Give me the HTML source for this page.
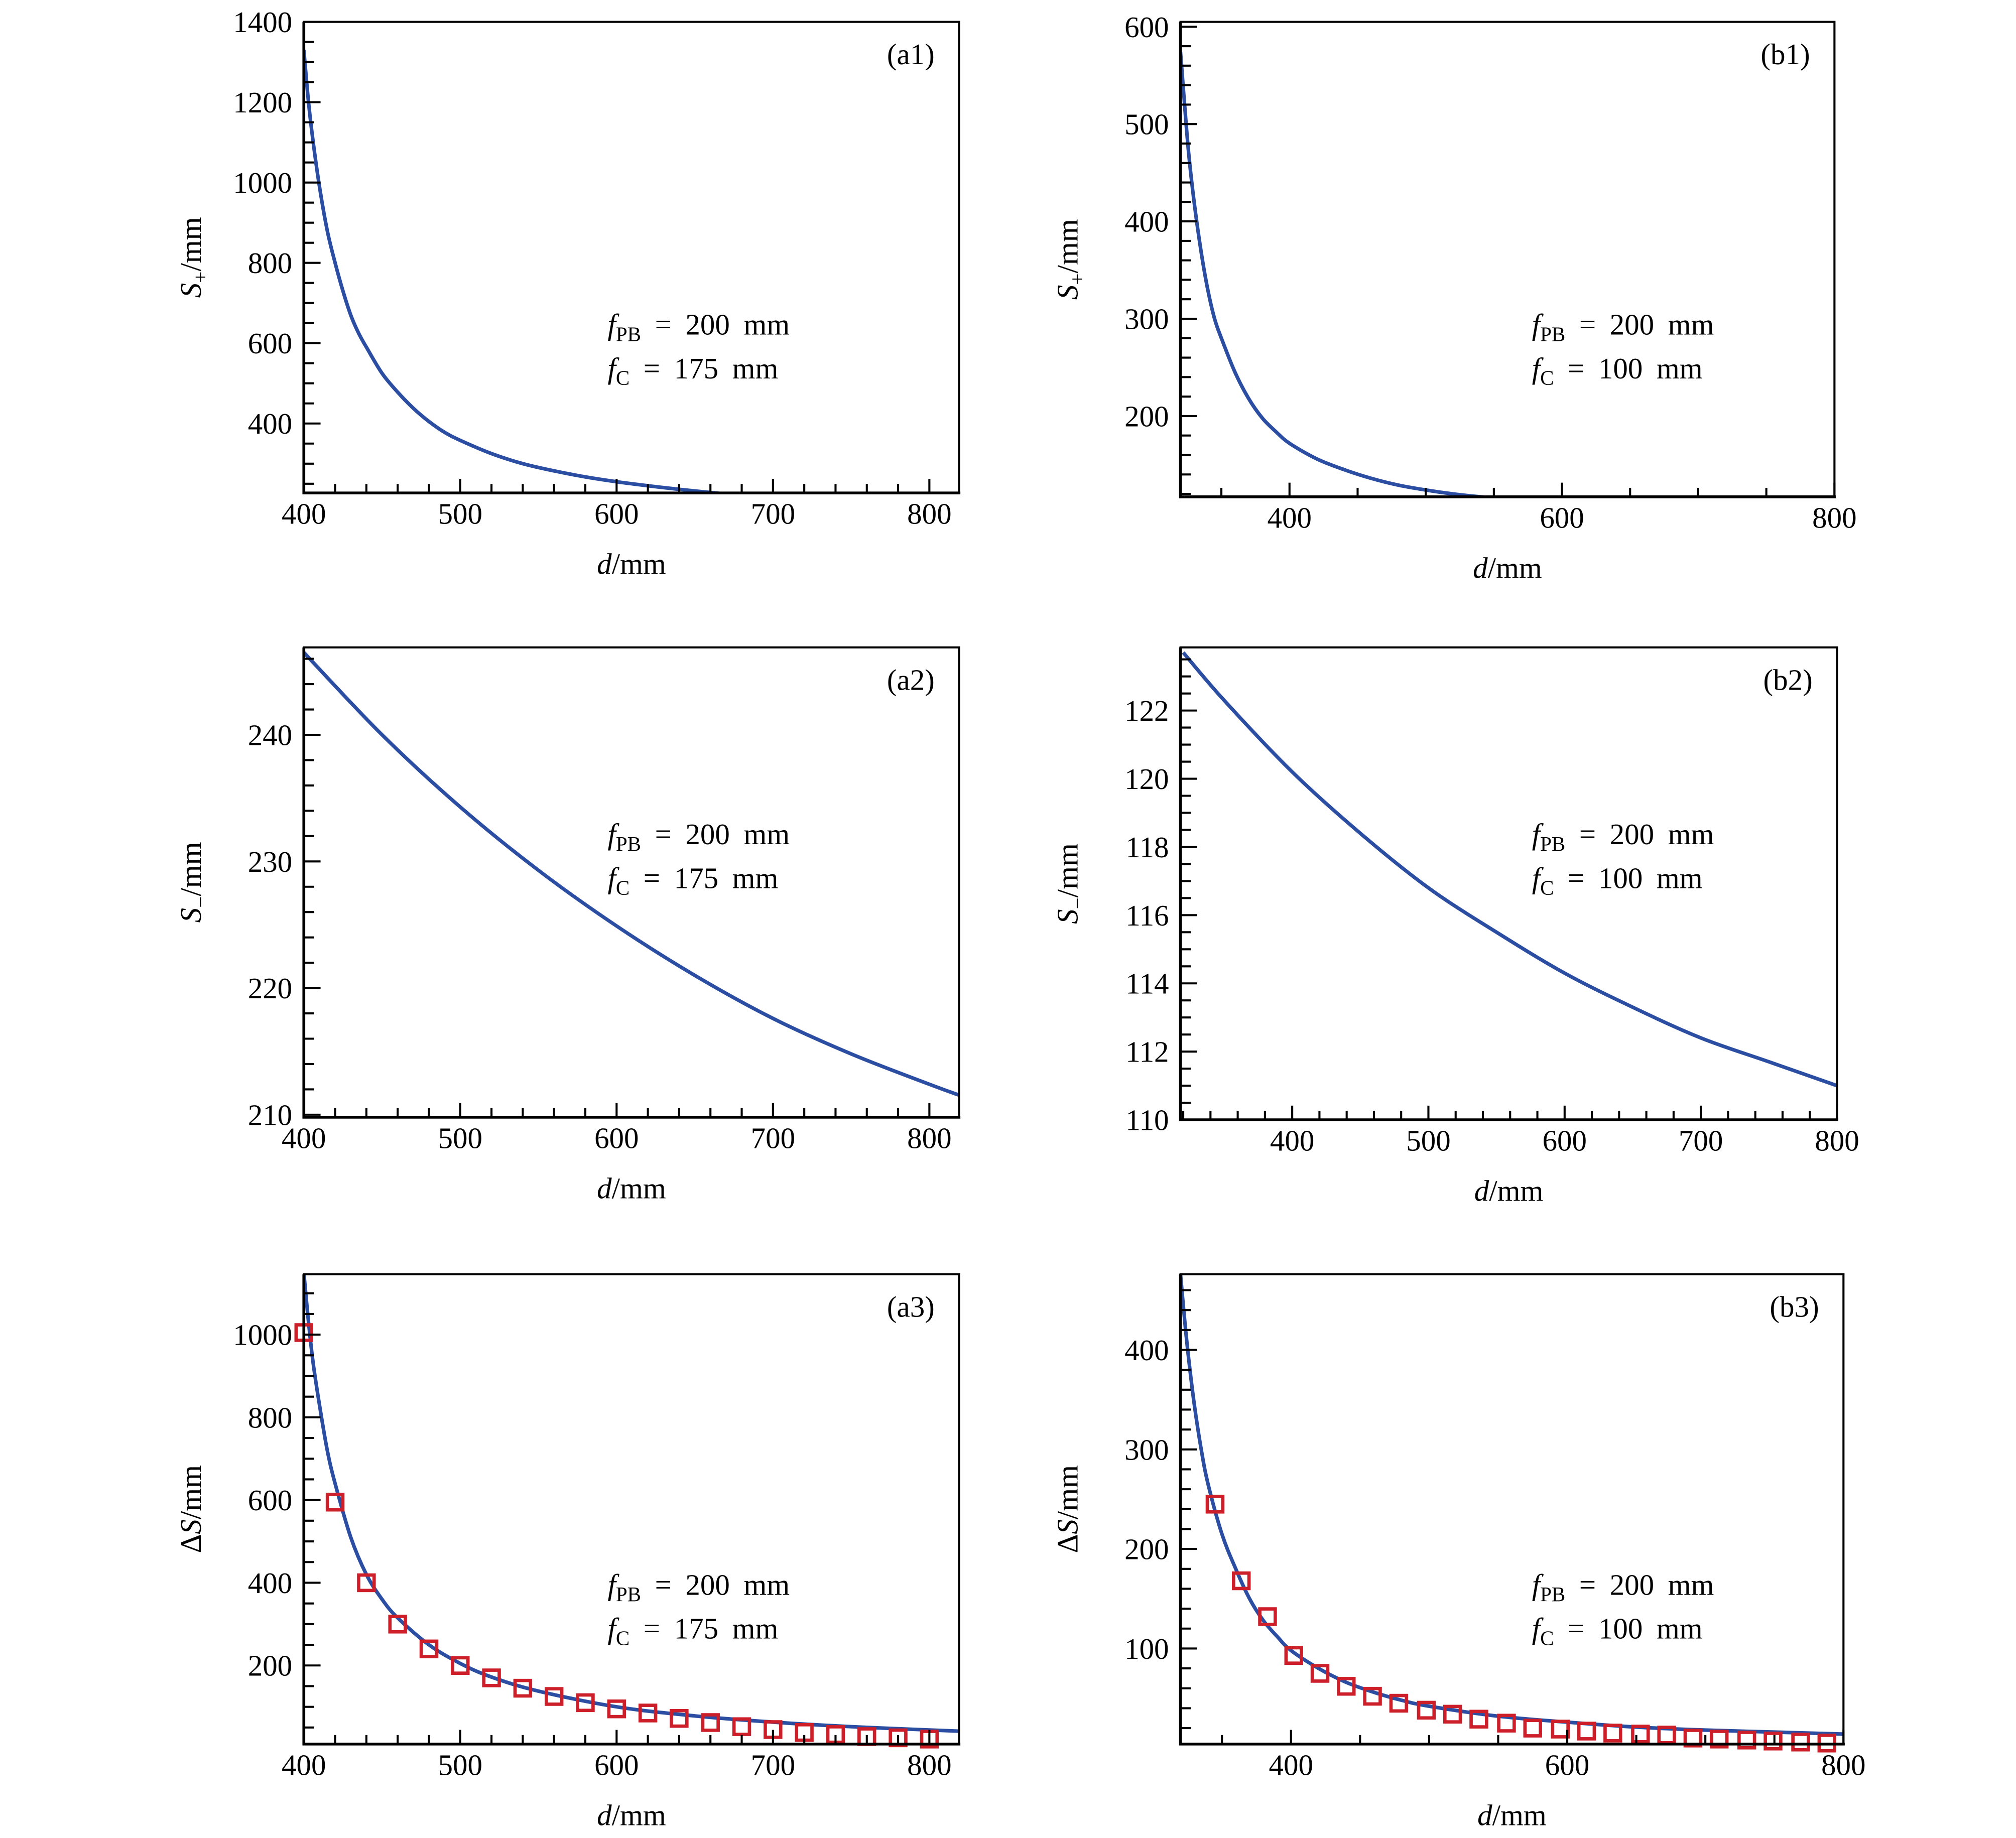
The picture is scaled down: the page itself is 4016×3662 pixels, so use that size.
<!DOCTYPE html>
<html><head><meta charset="utf-8">
<style>
html,body{margin:0;padding:0;background:#fff;}
svg{display:block;}
text{font-family:"Liberation Serif","DejaVu Serif",serif;fill:#000;}
</style></head>
<body>
<svg id="fig" xmlns="http://www.w3.org/2000/svg" width="4016" height="3662" viewBox="0 0 1566 1428">
<rect x="0" y="0" width="1566" height="1428" fill="#fff"/>
</svg>
<script>
// ---- data ----
const a1D = [400,403,406,410,415,420,425,430,435,440,450,460,470,480,490,500,520,540,560,580,600,620,640,660,680,700,740,780,820];
const a1S = [1330,1200,1100,990,880,800,730,670,625,590,525,478,438,405,378,358,325,300,282,267,255,245,236,228,221,214,204,196,189];
const b1D = [320,323,326,330,335,340,345,350,360,370,380,390,400,420,440,460,480,500,520,540,560,600,650,700,750,800];
const b1S = [574,520,470,420,370,330,300,280,245,218,198,184,172,156,145,136,129,124,120,117,115,111,107,104,101,99];
const a2D = [400,450,500,550,600,650,700,750,800,820];
const a2S = [246.5,240.0,234.3,229.3,224.9,221.0,217.6,214.8,212.4,211.5];
const b2D = [320,350,400,450,500,550,600,650,700,750,800];
const b2S = [123.7,122.3,120.2,118.4,116.8,115.5,114.3,113.3,112.4,111.7,111.0];
const a3D = [400,403,406,410,415,420,430,440,450,460,480,500,520,550,600,650,700,750,800,820];
const a3S = [1150,1030,930,830,720,640,510,420,360,315,250,205,172,138,100,78,63,52,44,41];
const a3PD = [400,420,440,460,480,500,520,540,560,580,600,620,640,660,680,700,720,740,760,780,800];
const a3PS = [1005,595,400,300,240,200,170,145,125,110,95,85,72,62,52,45,38,33,28,25,22];
const b3D = [320,323,326,330,335,340,350,360,370,380,390,400,420,440,460,480,500,550,600,650,700,750,800];
const b3S = [476,430,390,345,300,265,215,180,150,128,112,98,80,66,56,48,42,32,26,21,18,16,14];
const b3PD = [345,364,383,402,421,440,459,478,498,517,536,556,575,595,614,633,653,672,691,710,730,749,769,788];
const b3PS = [245,168,132,93,75,62,52,45,38,34,29,25,20,19,17,15,14,13,10,9,8,7,6,5];
const aXTicks = [400,500,600,700,800];
const bXTicks = [400,600,800];
const a1YTicks = [400,600,800,1000,1200,1400];
const b1YTicks = [200,300,400,500,600];
const a2YTicks = [210,220,230,240];
const b2YTicks = [110,112,114,116,118,120,122];
const a3YTicks = [200,400,600,800,1000];
const b3YTicks = [100,200,300,400];

const NS = "http://www.w3.org/2000/svg";
const svg = document.getElementById('fig');
function mk(tag, attrs, parent){
  const e = document.createElementNS(NS, tag);
  for (const k in attrs) e.setAttribute(k, attrs[k]);
  (parent||svg).appendChild(e);
  return e;
}
function smoothPath(P){
  let d = 'M' + P[0][0].toFixed(2) + ',' + P[0][1].toFixed(2);
  for (let i = 0; i < P.length - 1; i++){
    const p0 = P[Math.max(i-1,0)], p1 = P[i], p2 = P[i+1], p3 = P[Math.min(i+2,P.length-1)];
    const c1x = p1[0] + (p2[0]-p0[0])/6, c1y = p1[1] + (p2[1]-p0[1])/6;
    const c2x = p2[0] - (p3[0]-p1[0])/6, c2y = p2[1] - (p3[1]-p1[1])/6;
    d += 'C' + c1x.toFixed(2)+','+c1y.toFixed(2)+' '+c2x.toFixed(2)+','+c2y.toFixed(2)+' '+p2[0].toFixed(2)+','+p2[1].toFixed(2);
  }
  return d;
}
let clipId = 0;
function panel(o){
  const g = mk('g', {});
  
  
  const sx = v => o.L + (v - o.x0) / (o.x1 - o.x0) * (o.R - o.L);
  const sy = v => o.B - (v - o.y0) / (o.y1 - o.y0) * (o.B - o.T);
  const cid = 'clip' + (clipId++);
  const cp = mk('clipPath', {id: cid}, g);
  mk('rect', {x:o.L, y:o.T, width:o.R-o.L, height:o.B-o.T}, cp);
  const pts = o.cx.map((x,i)=>[sx(x), sy(o.cy[i])]);
  const line = mk('path', {d:smoothPath(pts), fill:'none', stroke:'#2b4ea2', 'stroke-width':2.8, 'stroke-linejoin':'round', 'clip-path':'url(#'+cid+')'}, g);
  
  
  if (o.px){
    o.px.forEach((x,i)=>{
      const r = mk('rect', {x:sx(x)-6, y:sy(o.py[i])-6, width:12, height:12, fill:'none', stroke:'#cc1f2a', 'stroke-width':2.6}, g);
      
      
    });
  }
  const fr = mk('rect', {x:o.L, y:o.T, width:o.R-o.L, height:o.B-o.T, fill:'none', stroke:'#000', 'stroke-width':1.6}, g);
  
  
  mk('line', {x1:o.L, y1:o.T, x2:o.L, y2:o.B+1, stroke:'#000','stroke-width':2.2}, g);
  mk('line', {x1:o.L-1, y1:o.B, x2:o.R+1, y2:o.B, stroke:'#000','stroke-width':2.2}, g);
  for (let v = Math.ceil(o.x0/o.xm)*o.xm; v <= o.x1+1e-9; v += o.xm){
    const major = o.xt.some(t=>Math.abs(t-v)<1e-6);
    const X = sx(v);
    mk('line', {x1:X, y1:o.B, x2:X, y2:o.B-(major?11:7), stroke:'#000','stroke-width':1.6}, g);
  }
  o.xt.forEach(v=>{
    const t = mk('text', {x:sx(v), y:o.B+24, 'font-size':23, 'text-anchor':'middle'}, g);
    t.textContent = v;
    
    
  });
  for (let v = Math.ceil(o.y0/o.ym - 1e-9)*o.ym; v <= o.y1+1e-9; v += o.ym){
    const major = o.yt.some(t=>Math.abs(t-v)<1e-6);
    const Y = sy(v);
    mk('line', {x1:o.L, y1:Y, x2:o.L+(major?13:8), y2:Y, stroke:'#000','stroke-width':1.6}, g);
  }
  o.yt.forEach(v=>{
    const t = mk('text', {x:o.L-9, y:sy(v)+8, 'font-size':23, 'text-anchor':'end'}, g);
    t.textContent = v;
    
    
  });
  const xl = mk('text', {x:(o.L+o.R)/2, y:o.B+63, 'font-size':23, 'text-anchor':'middle'}, g);
  xl.innerHTML = '<tspan font-style="italic">d</tspan>/mm';
  
  
  const yc = (o.T+o.B)/2;
  const yl = mk('text', {x:0, y:0, 'font-size':23, 'text-anchor':'middle', transform:'translate('+(o.L-80)+','+yc+') rotate(-90)'}, g);
  yl.innerHTML = o.ylab;
  
  
  const pl = mk('text', {x:o.R-19, y:o.T+33, 'font-size':23, 'text-anchor':'end'}, g);
  pl.textContent = o.tag;
  
  
  const an1 = mk('text', {x:o.ax, y:o.T+o.ay, 'font-size':23, 'word-spacing':'5'}, g);
  an1.innerHTML = '<tspan font-style="italic">f</tspan><tspan font-size="16" dy="5">PB</tspan><tspan dy="-5"> = 200 mm</tspan>';
  
  
  const an2 = mk('text', {x:o.ax, y:o.T+o.ay+34, 'font-size':23, 'word-spacing':'5'}, g);
  an2.innerHTML = '<tspan font-style="italic">f</tspan><tspan font-size="16" dy="5">C</tspan><tspan dy="-5"> = ' + o.fc + ' mm</tspan>';
  
  
}
const SP = '<tspan font-style="italic">S</tspan><tspan font-size="16" dy="5">+</tspan><tspan dy="-5">/mm</tspan>';
const SM = '<tspan font-style="italic">S</tspan><tspan font-size="16" dy="5">−</tspan><tspan dy="-5">/mm</tspan>';
const DS = 'Δ<tspan font-style="italic">S</tspan>/mm';
panel({name:'panel-a1', tag:'(a1)', L:236, R:745, T:17, B:383, x0:400, x1:819, y0:227, y1:1400, xm:20, ym:50, xt:aXTicks, yt:a1YTicks, cx:a1D, cy:a1S, ylab:SP, ax:472, ay:243, fc:175});
panel({name:'panel-b1', tag:'(b1)', L:917, R:1425, T:17, B:386, x0:320, x1:800, y0:117, y1:605, xm:50, ym:20, xt:bXTicks, yt:b1YTicks, cx:b1D, cy:b1S, ylab:SP, ax:1190, ay:243, fc:100});
panel({name:'panel-a2', tag:'(a2)', L:236, R:745, T:503, B:868, x0:400, x1:819, y0:209.8, y1:246.9, xm:20, ym:2, xt:aXTicks, yt:a2YTicks, cx:a2D, cy:a2S, ylab:SM, ax:472, ay:153, fc:175});
panel({name:'panel-b2', tag:'(b2)', L:917, R:1427, T:503, B:870, x0:318, x1:800, y0:110, y1:123.85, xm:20, ym:0.5, xt:[400,500,600,700,800], yt:b2YTicks, cx:b2D, cy:b2S, ylab:SM, ax:1190, ay:153, fc:100});
panel({name:'panel-a3', tag:'(a3)', L:236, R:745, T:990, B:1355, x0:400, x1:819, y0:10, y1:1146, xm:20, ym:50, xt:aXTicks, yt:a3YTicks, cx:a3D, cy:a3S, px:a3PD, py:a3PS, ylab:DS, ax:472, ay:249, fc:175});
panel({name:'panel-b3', tag:'(b3)', L:917, R:1432, T:990, B:1355, x0:320, x1:800, y0:4, y1:476, xm:50, ym:20, xt:bXTicks, yt:b3YTicks, cx:b3D, cy:b3S, px:b3PD, py:b3PS, ylab:DS, ax:1190, ay:249, fc:100});
</script>
</body></html>
